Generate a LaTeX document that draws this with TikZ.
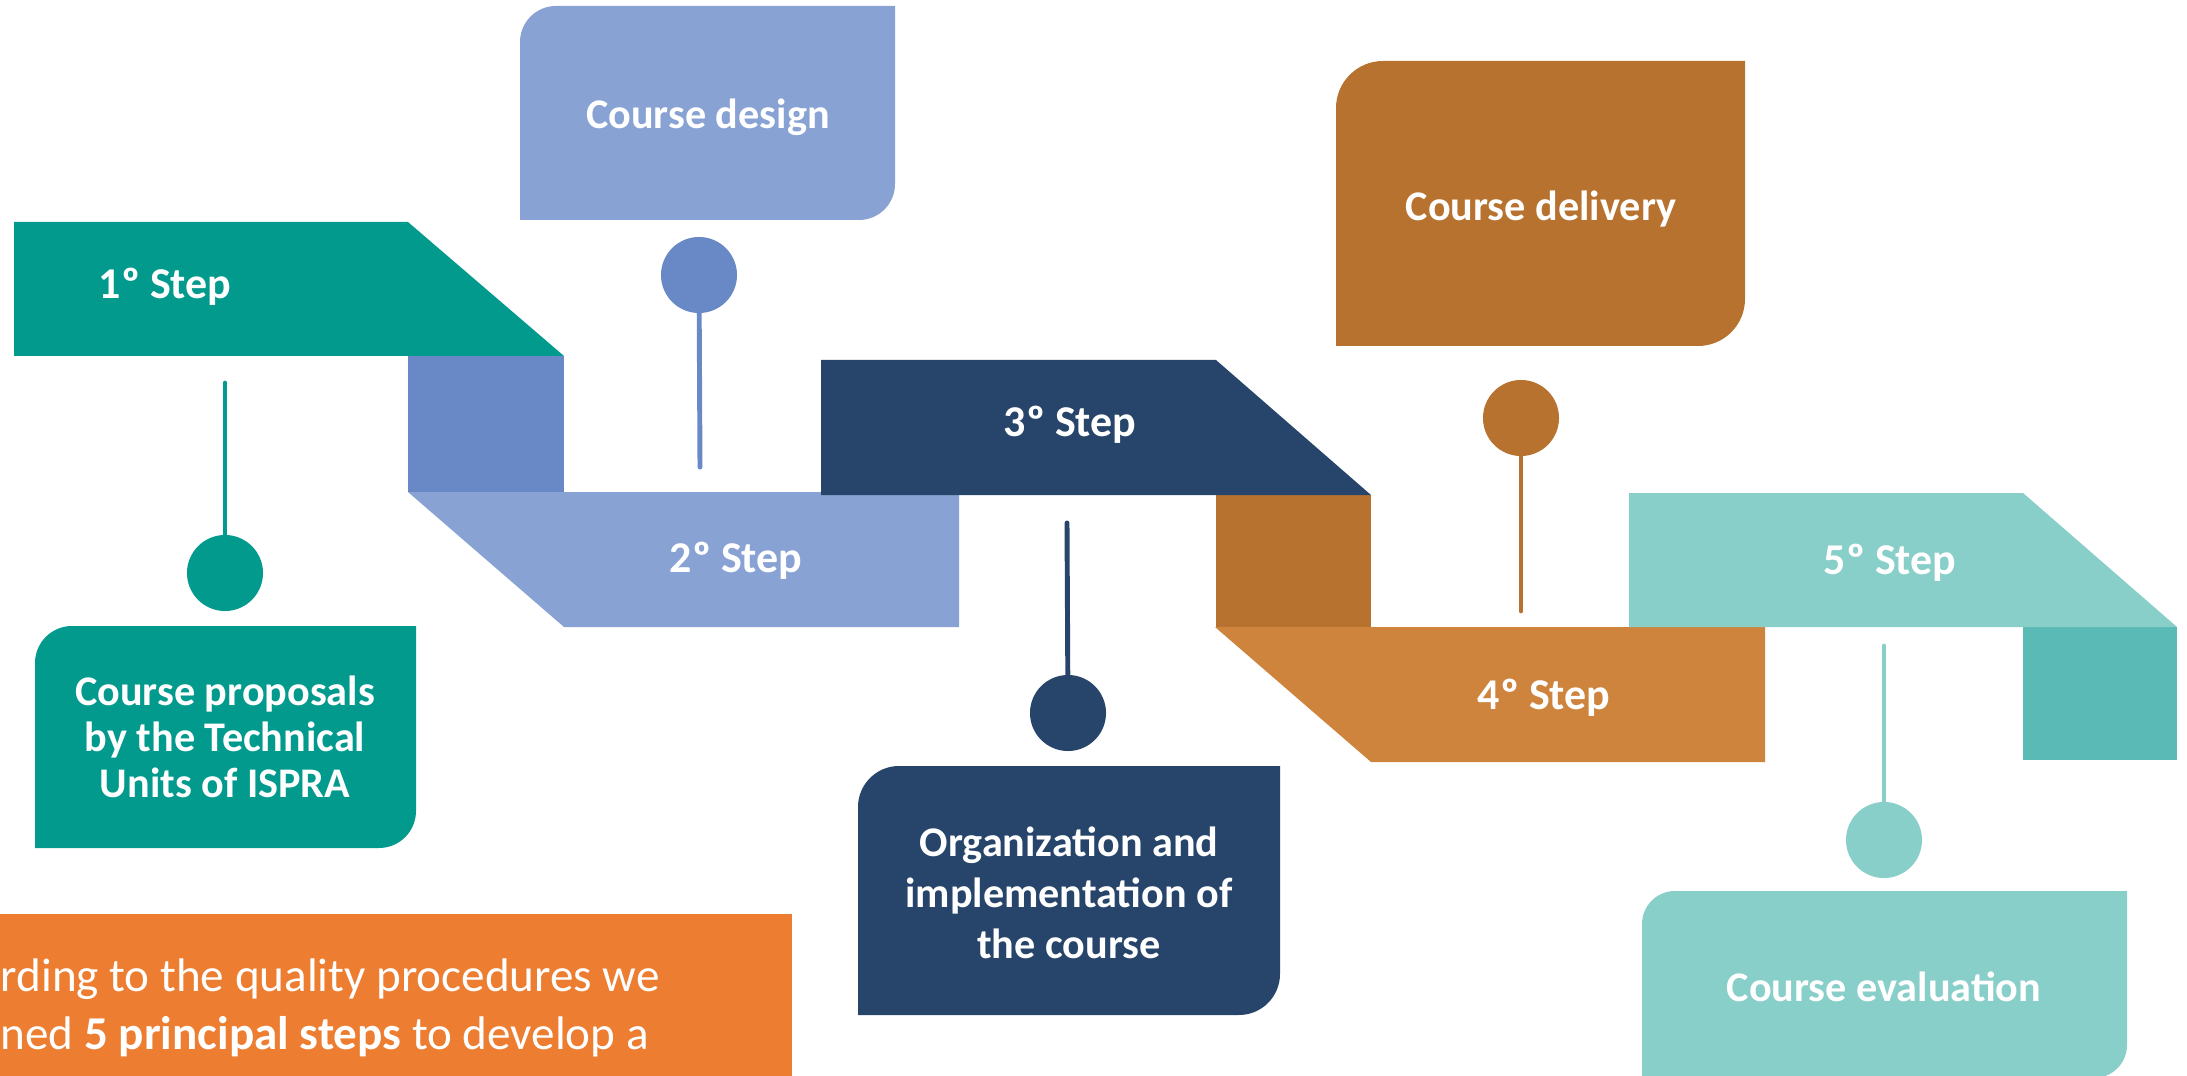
\documentclass[tikz,border=0pt]{standalone}
\usepackage{fontspec}
\setmainfont{Carlito}

\definecolor{stepteal}{HTML}{039A8E}
\definecolor{stepblue}{HTML}{6888C6}
\definecolor{steplightblue}{HTML}{88A2D3}
\definecolor{stepnavy}{HTML}{27456A}
\definecolor{stepbrown}{HTML}{B7722F}
\definecolor{steporange}{HTML}{CE843D}
\definecolor{steplightteal}{HTML}{88CEC9}
\definecolor{stepmidteal}{HTML}{5ABAB5}
\definecolor{introorange}{HTML}{ED7D31}

\tikzset{
    steplabel/.style={text=white, inner sep=0pt, font=\bfseries\fontsize{12.5}{14}\selectfont},
    boxlabel/.style={text=white, inner sep=0pt, align=center, font=\bfseries\fontsize{12}{13.1}\selectfont},
    bulb/.style={circle, inner sep=0pt, minimum size=0.76cm},
    stemline/.style={line width=1.4pt, line cap=round}
}

\begin{document}
\begin{tikzpicture}[x=0.01cm, y=-0.01cm]
        \useasboundingbox (0,0) rectangle (2187,1076);
        \clip (0,0) rectangle (2187,1076);

        % Draw the stair of steps (bands and corner squares)
        \fill[stepblue] (408,356) rectangle (564,492);
        \fill[stepteal] (14,222) -- (408,222) -- (564,356) -- (14,356) -- cycle;
        \fill[steplightblue] (408,492) -- (959,492) -- (959,627) -- (564,627) -- cycle;
        \fill[stepbrown] (1216,495) rectangle (1371,627);
        \fill[stepnavy] (821,360) -- (1216,360) -- (1371,495) -- (821,495) -- cycle;
        \fill[steporange] (1215,627) -- (1765,627) -- (1765,762) -- (1371,762) -- cycle;
        \fill[stepmidteal] (2023,627) rectangle (2177,760);
        \fill[steplightteal] (1629,493) -- (2023,493) -- (2177,627) -- (1629,627) -- cycle;

        \node[steplabel] (s1) at (165,287) {1º Step};
        \node[steplabel] (s2) at (736,561) {2º Step};
        \node[steplabel] (s3) at (1070,425) {3º Step};
        \node[steplabel] (s4) at (1544,698) {4º Step};
        \node[steplabel] (s5) at (1890,563) {5º Step};

        % Callout boxes, rounded on two opposite corners
        \fill[stepteal] (35,848) -- (35,663) arc[start angle=180, end angle=270, radius=37]
            -- (416,626) -- (416,811) arc[start angle=0, end angle=90, radius=37] -- cycle;
        \fill[steplightblue] (520,220) -- (520,42) arc[start angle=180, end angle=270, radius=36]
            -- (895,6) -- (895,184) arc[start angle=0, end angle=90, radius=36] -- cycle;
        \fill[stepbrown] (1336,346) -- (1336,108) arc[start angle=180, end angle=270, radius=47]
            -- (1745,61) -- (1745,299) arc[start angle=0, end angle=90, radius=47] -- cycle;
        \fill[stepnavy] (858,1015) -- (858,807) arc[start angle=180, end angle=270, radius=41]
            -- (1280,766) -- (1280,974) arc[start angle=0, end angle=90, radius=41] -- cycle;
        \fill[steplightteal] (1642,1078) -- (1642,924) arc[start angle=180, end angle=270, radius=33]
            -- (2127,891) -- (2127,1045) arc[start angle=0, end angle=90, radius=33] -- cycle;

        \node[boxlabel] (proposals) at (225,737) {Course proposals\\by the Technical\\Units of ISPRA};
        \node[boxlabel] (design) at (708,117) {Course design};
        \node[boxlabel] (delivery) at (1541,209) {Course delivery};
        \node[boxlabel, font=\bfseries\fontsize{12}{14.5}\selectfont] (organization) at (1069,893) {Organization and\\implementation of\\the course};
        \node[boxlabel] (evaluation) at (1884,987) {Course evaluation};

        % Pins linking each box to its step
        \node[bulb, fill=stepteal] (pinA) at (225,573) {};
        \node[bulb, fill=stepblue] (pinB) at (699,275) {};
        \node[bulb, fill=stepnavy] (pinC) at (1068,713) {};
        \node[bulb, fill=stepbrown] (pinD) at (1521,418) {};
        \node[bulb, fill=steplightteal] (pinE) at (1884,840) {};
        \coordinate (tipA) at (225,383);
        \coordinate (tipB) at (700,467);
        \coordinate (tipC) at (1067,523);
        \coordinate (tipD) at (1521,611);
        \coordinate (tipE) at (1884,646);
        \draw[stemline, stepteal] (pinA) -- (tipA);
        \draw[stemline, stepblue] (pinB) -- (tipB);
        \draw[stemline, stepnavy] (pinC) -- (tipC);
        \draw[stemline, stepbrown] (pinD) -- (tipD);
        \draw[stemline, steplightteal] (pinE) -- (tipE);

        % Introductory text panel
        \fill[introorange] (0,914) rectangle (792,1076);
        \node[anchor=base west, inner sep=0pt, text=white, font=\fontsize{13.4}{16.5}\selectfont] (introA) at (0,991) {rding to the quality procedures we};
        \node[anchor=base west, inner sep=0pt, text=white, font=\fontsize{13.4}{16.5}\selectfont] (introB) at (0,1049) {ned \textbf{5 principal steps} to develop a};

    \end{tikzpicture}
\end{document}
